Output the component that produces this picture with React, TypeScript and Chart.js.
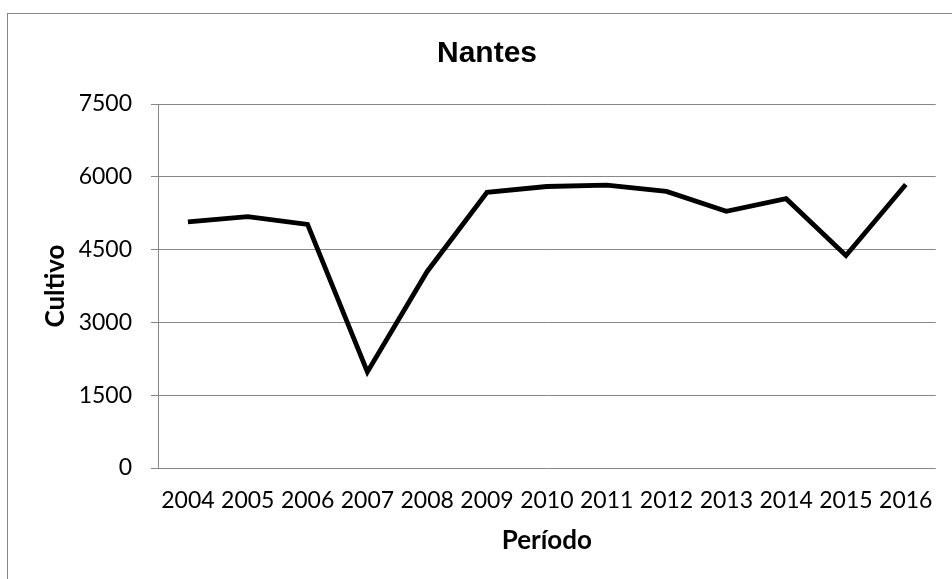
import React, { useEffect, useRef } from "react";
import { Chart, registerables } from "chart.js";

Chart.register(...registerables);

// Harvest figures for Nantes, one value per year
const years = ["2004", "2005", "2006", "2007", "2008", "2009", "2010", "2011", "2012", "2013", "2014", "2015", "2016"];
const cultivo = [5070, 5180, 5020, 1980, 4050, 5680, 5800, 5830, 5700, 5290, 5550, 4380, 5840];
const yTickValues = [0, 1500, 3000, 4500, 6000, 7500];

const chartTitle = "Nantes";
const xTitle = "Período";
const yTitle = "Cultivo";

const GRID = "#868686";

// White page plus the thin grey chart frame
const framePlugin = {
  id: "frame",
  beforeDraw(chart: any) {
    const { ctx, width, height } = chart;
    ctx.save();
    ctx.fillStyle = "#ffffff";
    ctx.fillRect(0, 0, width, height);
    ctx.strokeStyle = GRID;
    ctx.lineWidth = 1;
    ctx.strokeRect(7.5, 13.5, width + 40, height + 40);
    ctx.restore();
  },
};

export default function App() {
  const canvasRef = useRef<HTMLCanvasElement | null>(null);

  useEffect(() => {
    const canvas = canvasRef.current;
    if (!canvas) return;
    const chart = new Chart(canvas, {
      type: "line",
      data: {
        labels: years,
        datasets: [
          {
            label: yTitle,
            data: cultivo,
            borderColor: "#000000",
            backgroundColor: "#000000",
            borderWidth: 4.8,
            pointRadius: 0,
            pointHoverRadius: 0,
            tension: 0,
            fill: false,
          },
        ],
      },
      options: {
        responsive: false,
        animation: false,
        devicePixelRatio: 1,
        layout: { padding: { left: 36, right: 14, top: 10, bottom: 19 } },
        plugins: {
          legend: { display: false },
          tooltip: { enabled: false },
          title: {
            display: true,
            text: chartTitle,
            color: "#000000",
            font: { family: "'Liberation Sans', Arial, sans-serif", size: 30, weight: "bold" },
            padding: { top: 26, bottom: 32 },
          },
        },
        scales: {
          x: {
            type: "category",
            offset: true,
            grid: { display: false, drawTicks: false },
            border: { display: false },
            ticks: {
              color: "#000000",
              font: { family: "Lato, 'Open Sans', sans-serif", size: 23 },
              padding: 19,
              maxRotation: 0,
              autoSkip: false,
            },
            title: {
              display: true,
              text: xTitle,
              color: "#000000",
              font: { family: "Lato, 'Open Sans', sans-serif", size: 26, weight: "bold" },
              padding: { top: 4, bottom: 4 },
            },
            afterFit(scale: any) {
              scale.height = 92;
            },
          },
          y: {
            min: 0,
            max: 7500,
            afterBuildTicks(scale: any) {
              scale.ticks = yTickValues.map((v) => ({ value: v }));
            },
            grid: { color: GRID, lineWidth: 1, drawTicks: true, tickLength: 7, tickColor: GRID },
            border: { display: true, color: GRID, width: 1 },
            ticks: {
              color: "#000000",
              font: { family: "Lato, 'Open Sans', sans-serif", size: 23 },
              padding: 19,
              callback: (value: any) => String(value),
            },
            title: {
              display: true,
              text: yTitle,
              color: "#000000",
              font: { family: "Lato, 'Open Sans', sans-serif", size: 26, weight: "bold" },
              padding: { top: 4, bottom: 4 },
            },
            afterFit(scale: any) {
              scale.width = 122;
            },
          },
        },
      },
      plugins: [framePlugin],
    });
    return () => chart.destroy();
  }, []);

  return (
    <div style={{ position: "fixed", left: 0, top: 0, width: 952, height: 579, overflow: "hidden", background: "#fff" }}>
      <canvas ref={canvasRef} width={952} height={579} style={{ display: "block", width: 952, height: 579 }} />
    </div>
  );
}
